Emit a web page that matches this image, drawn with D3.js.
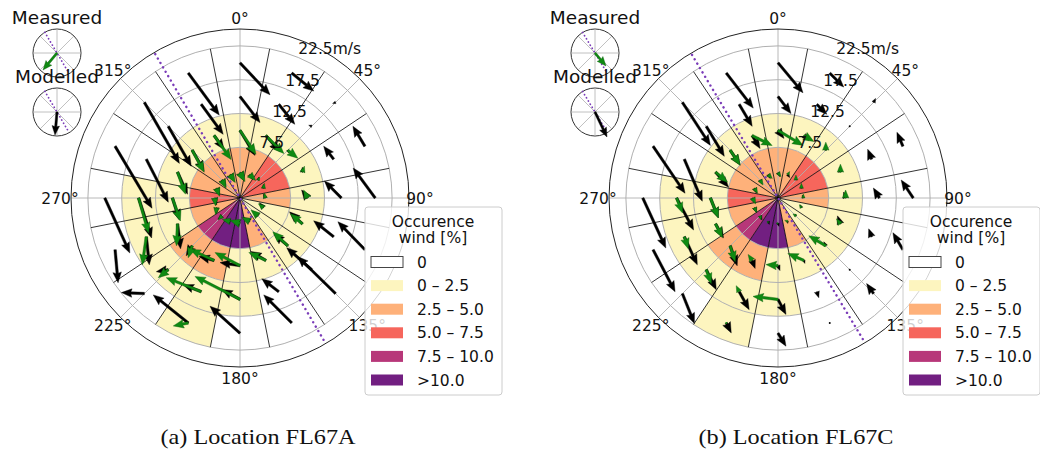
<!DOCTYPE html>
<html>
<head>
<meta charset="utf-8">
<script src="https://cdn.jsdelivr.net/npm/d3@7"></script>
<style>
  body { margin: 0; background: #fff; }
  svg { display: block; }
  text { font-family: "DejaVu Sans", sans-serif; fill: #111; }
</style>
</head>
<body>
<svg id="chart" width="1040" height="455"></svg>
<script>
// wind direction sectors (deg, coming from) and wind speed bins (m/s)
const DIRECTIONS = d3.range(16).map(i => i * 22.5);
const SPEED_BINS = [0, 7.5, 12.5, 17.5, 22.5];
const RADIAL_TICKS = [7.5, 12.5, 17.5, 22.5];
const ANGLE_TICKS = [0, 45, 90, 135, 180, 225, 270, 315];

// occurrence of wind [%] per speed bin (rows) and direction sector (cols)
const OCCURRENCE = [
  [3.5, 3.5, 6, 6, 3.5, 1.5, 1.5, 3.5, 11, 11, 8.5, 3.5, 6, 3.5, 3.5, 3.5],
  [1.5, 1.5, 1.5, 1.5, 1.5, 1.5, 1.5, 1.5, 1.5, 3.5, 3.5, 1.5, 1.5, 1.5, 1.5, 1.5],
  [0, 0, 0, 0, 0, 0, 0, 0, 1, 1, 1, 1, 1, 0, 0, 0],
  [0, 0, 0, 0, 0, 0, 0, 0, 0, 0.5, 0, 0, 0, 0, 0, 0]
];
const OCC_LABELS = ['0', '0 – 2.5', '2.5 – 5.0', '5.0 – 7.5', '7.5 – 10.0', '>10.0'];
const OCC_COLORS = ['#ffffff', '#fdf5bf', '#feb17a', '#f6665c', '#b73779', '#721f81'];
const OCC_BREAKS = [0.001, 2.5, 5, 7.5, 10];

// mean current per wind bin, east (u) and north (v) components [cm/s]
const FL67A_MOD_U = [
  [8, 6, 2, 0, -4, -8, -10, -12, -14, -12, -8, 0, 4, 6, 8, 8],
  [30, 28, 2, 0, -12, -26, -28, -30, -40, -30, -12, 6, 14, 20, 24, 20],
  [40, 32, -6, -20, -34, -40, -50, -34, -36, -36, -24, 6, 26, 44, 46, 44],
  [60, 44, -6, -24, -44, -54, -76, -56, -60, -70, -46, 6, 50, 74, 70, 62]
];
const FL67A_MOD_V = [
  [-16, -10, 6, 8, 8, 10, 10, 8, 4, 2, -6, -12, -14, -14, -14, -14],
  [-50, -32, -6, 10, 16, 24, 24, 18, 6, 8, -20, -50, -44, -44, -42, -28],
  [-52, -40, 2, 26, 34, 32, 44, 26, 20, 14, -4, -56, -80, -86, -80, -60],
  [-64, -36, -2, 40, 60, 56, 74, 56, 54, 56, 2, -66, -110, -124, -122, -84]
];
const FL67A_MEAS_U = [
  [10, 12, 4, 2, -2, -10, -14, -16, -20, -16, -8, -2, 2, 6, 8, 10],
  [32, 36, 20, 4, -8, -24, -30, -34, -50, -48, -8, -2, 16, 16, 24, 34],
  [null, null, null, null, null, null, null, null, -90, -70, -20, -8, 20, null, null, null],
  [null, null, null, null, null, null, null, null, null, -30, null, null, null, null, null, null]
];
const FL67A_MEAS_V = [
  [-18, -12, 6, 10, 10, 8, 12, 8, 6, 4, -8, -14, -16, -16, -16, -16],
  [-48, -36, -16, 12, 16, 20, 28, 16, 26, 22, -24, -44, -46, -44, -44, -48],
  [null, null, null, null, null, null, null, null, 46, 28, -16, -56, -70, null, null, null],
  [null, null, null, null, null, null, null, null, null, -6, null, null, null, null, null, null]
];
const FL67C_MOD_U = [
  [4, 4, 0, 0, -2, -2, -2, 0, 2, 2, 4, 4, 4, 4, 4, 4],
  [12, 10, 0, -2, -4, -6, -4, 2, 4, 6, 14, 16, 16, 26, 20, 16],
  [26, 20, 0.6, -8, -12, -6, 0.6, 4, 16, 20, 20, 26, 34, 36, 36, 26],
  [50, 28, 4, -12, -24, -20, -14, 0.6, 16, 10, 24, 44, 46, 64, 56, 54]
];
const FL67C_MOD_V = [
  [-8, -6, 6, 6, 6, 6, 4, -4, -6, -6, -8, -10, -10, -10, -8, -8],
  [-16, -10, 6, 10, 12, 16, 8, -6, -10, -16, -40, -28, -40, -30, -30, -26],
  [-34, -20, 0.6, 20, 20, 16, 0, -12, -30, -36, -40, -56, -64, -84, -60, -44],
  [-60, -28, 8, 28, 36, 34, 20, -0.6, -26, -20, -60, -84, -100, -94, -86, -70]
];
const FL67C_MEAS_U = [
  [6, 4, 0, 0, 0, -4, -6, -6, -4, -2, 2, 4, 6, 6, 6, 8],
  [50, 20, 0, 0, 0, -8, -34, -32, -24, -8, 10, 14, 16, 24, 20, 40],
  [null, null, null, null, null, null, null, null, -50, -6, 10, 8, 12, null, null, null],
  [null, null, null, null, null, null, null, null, null, 0.6, null, null, null, null, null, null]
];
const FL67C_MEAS_V = [
  [-8, 6, 10, 10, 8, 6, 4, 2, 0, -4, -8, -10, -12, -10, -10, -8],
  [-30, -12, 16, 16, 16, 10, 20, 14, 2, 12, -32, -28, -40, -20, -30, -20],
  [null, null, null, null, null, null, null, null, 6, 12, -28, -24, -30, null, null, null],
  [null, null, null, null, null, null, null, null, null, -1, null, null, null, null, null, null]
];

// overall mean current (insets) [cm/s] and coast orientation [deg]
const MEAN_MEAS_A = [-28, -34];
const MEAN_MOD_A = [-4, -46];
const MEAN_MEAS_C = [22, -26];
const MEAN_MOD_C = [24, -50];
const COAST_ANGLE_A = 149.5;
const COAST_ANGLE_C = 149;

const CAPTIONS = ['(a) Location FL67A', '(b) Location FL67C'];

const QUIVER_SCALE = 0.5;   // px per cm/s
const R_MAX = 25;

const panels = [
  { cx: 240, cy: 198, mu: FL67A_MOD_U, mv: FL67A_MOD_V, gu: FL67A_MEAS_U, gv: FL67A_MEAS_V,
    meanMeas: MEAN_MEAS_A, meanMod: MEAN_MOD_A, coast: COAST_ANGLE_A, caption: CAPTIONS[0] },
  { cx: 778, cy: 198, mu: FL67C_MOD_U, mv: FL67C_MOD_V, gu: FL67C_MEAS_U, gv: FL67C_MEAS_V,
    meanMeas: MEAN_MEAS_C, meanMod: MEAN_MOD_C, coast: COAST_ANGLE_C, caption: CAPTIONS[1] }
];

const svg = d3.select('#chart');
const rScale = d3.scaleLinear().domain([0, R_MAX]).range([0, 169]);
const occColor = d3.scaleThreshold().domain(OCC_BREAKS).range(OCC_COLORS);
const rad = d => d * Math.PI / 180;
const arc = d3.arc();
const GRID = '#b0b0b0';
const PURPLE = '#7a3cb8';
const GREEN = '#0f8a12';

function polar(bearing, r) {
  return [r * Math.sin(rad(bearing)), -r * Math.cos(rad(bearing))];
}

// quiver-like arrow polygon, tail at (x0, y0)
function arrowPath(x0, y0, dx, dy, w) {
  const len = Math.hypot(dx, dy);
  let hl = 4.2 * w, hal = 3.8 * w, hw = 1.7 * w, sw = w / 2;
  if (len < hl) { const s = len / hl; hl *= s; hal *= s; hw *= s; sw *= s; }
  const pts = [[0, -sw], [len - hal, -sw], [len - hl, -hw], [len, 0], [len - hl, hw], [len - hal, sw], [0, sw]];
  const c = dx / len, s = dy / len;
  return 'M' + pts.map(([a, b]) => [x0 + a * c - b * s, y0 + a * s + b * c].map(v => v.toFixed(2)).join(',')).join('L') + 'Z';
}

function drawArrows(g, data, color, stroke) {
  data.forEach(d => {
    const dx = d.u * QUIVER_SCALE, dy = -d.v * QUIVER_SCALE;
    if (Math.hypot(dx, dy) < 1) {
      g.append('circle').attr('cx', d.x).attr('cy', d.y).attr('r', 1).attr('fill', color);
    } else {
      g.append('path').attr('d', arrowPath(d.x, d.y, dx, dy, 2.5))
        .attr('fill', color).attr('stroke', stroke).attr('stroke-width', 0.4);
    }
  });
}

function coastLine(g, angle, r, dotW) {
  const a = polar(angle - 180, r), b = polar(angle, r);
  g.append('line').attr('x1', a[0]).attr('y1', a[1]).attr('x2', b[0]).attr('y2', b[1])
    .attr('stroke', PURPLE).attr('stroke-width', dotW).attr('stroke-linecap', 'round')
    .attr('stroke-dasharray', dotW > 2 ? '0.1,5' : '0.1,3.6');
}

function drawInset(g, x, y, label, vec, color, coast) {
  const ig = g.append('g').attr('transform', `translate(${x},${y})`);
  const r = 24;
  ig.append('circle').attr('r', r).attr('fill', '#fff').attr('stroke', '#333').attr('stroke-width', 1);
  ANGLE_TICKS.slice(0, 4).forEach(a => {
    const p = polar(a, r);
    ig.append('line').attr('x1', -p[0]).attr('y1', -p[1]).attr('x2', p[0]).attr('y2', p[1])
      .attr('stroke', GRID).attr('stroke-width', 0.8);
  });
  coastLine(ig, coast, r, 1.8);
  ig.append('path').attr('d', arrowPath(0, 0, vec[0] * QUIVER_SCALE, -vec[1] * QUIVER_SCALE, 2.2))
    .attr('fill', color).attr('stroke', color === GREEN ? '#0a5a0a' : '#000').attr('stroke-width', 0.4);
  g.append('text').attr('x', x).attr('y', y - 29).attr('text-anchor', 'middle')
    .style('font-size', '18.5px').text(label);
}

panels.forEach(p => {
  const g = svg.append('g').attr('transform', `translate(${p.cx},${p.cy})`);

  // occurrence cells
  const cells = [];
  SPEED_BINS.slice(0, -1).forEach((lo, bi) => {
    DIRECTIONS.forEach((dir, si) => cells.push({ lo, hi: SPEED_BINS[bi + 1], dir, occ: OCCURRENCE[bi][si] }));
  });
  g.selectAll('path.cell').data(cells).enter().append('path').attr('class', 'cell')
    .attr('d', d => arc({ innerRadius: rScale(d.lo), outerRadius: rScale(d.hi),
      startAngle: rad(d.dir - 11.25), endAngle: rad(d.dir + 11.25) }))
    .attr('fill', d => occColor(d.occ));

  // grid
  g.selectAll('line.agrid').data(ANGLE_TICKS).enter().append('line').attr('class', 'agrid')
    .attr('x1', 0).attr('y1', 0)
    .attr('x2', d => polar(d, rScale(R_MAX))[0]).attr('y2', d => polar(d, rScale(R_MAX))[1])
    .attr('stroke', GRID).attr('stroke-width', 0.9);
  g.selectAll('circle.rgrid').data(RADIAL_TICKS).enter().append('circle').attr('class', 'rgrid')
    .attr('r', d => rScale(d)).attr('fill', 'none').attr('stroke', GRID).attr('stroke-width', 1);

  // sector edges
  g.selectAll('line.edge').data(DIRECTIONS).enter().append('line').attr('class', 'edge')
    .attr('x1', 0).attr('y1', 0)
    .attr('x2', d => polar(d + 11.25, rScale(22.5))[0]).attr('y2', d => polar(d + 11.25, rScale(22.5))[1])
    .attr('stroke', '#000').attr('stroke-width', 0.8);

  g.append('circle').attr('r', rScale(R_MAX)).attr('fill', 'none').attr('stroke', '#222').attr('stroke-width', 1);

  coastLine(g, p.coast, 167, 2.4);

  // arrows, tail at cell centre
  const mod = [], meas = [];
  SPEED_BINS.slice(0, -1).forEach((lo, bi) => {
    const rc = rScale((lo + SPEED_BINS[bi + 1]) / 2);
    DIRECTIONS.forEach((dir, si) => {
      const [x, y] = polar(dir, rc);
      mod.push({ x, y, u: p.mu[bi][si], v: p.mv[bi][si] });
      if (p.gu[bi][si] !== null) meas.push({ x, y, u: p.gu[bi][si], v: p.gv[bi][si] });
    });
  });
  drawArrows(g, mod, '#000', '#000');
  drawArrows(g, meas, GREEN, '#0a5a0a');

  // angle labels
  g.selectAll('text.alab').data(ANGLE_TICKS).enter().append('text').attr('class', 'alab')
    .attr('x', d => polar(d, 180)[0]).attr('y', d => polar(d, 180)[1])
    .attr('dy', '0.36em').attr('text-anchor', 'middle').style('font-size', '15.5px')
    .text(d => d + '°');

  // radial labels
  g.selectAll('text.rlab').data(RADIAL_TICKS).enter().append('text').attr('class', 'rlab')
    .attr('x', d => polar(22.5, rScale(d))[0]).attr('y', d => polar(22.5, rScale(d))[1] - 3)
    .style('font-size', '15.5px')
    .text((d, i) => i === RADIAL_TICKS.length - 1 ? d + 'm/s' : d);

  // insets
  drawInset(svg, p.cx - 183, 53, 'Measured', p.meanMeas, GREEN, p.coast);
  drawInset(svg, p.cx - 183, 112, 'Modelled', p.meanMod, '#000', p.coast);

  // legend
  const lg = svg.append('g').attr('transform', `translate(${p.cx + 125},207)`);
  lg.append('rect').attr('width', 137).attr('height', 188).attr('rx', 3)
    .attr('fill', '#fff').attr('fill-opacity', 0.8).attr('stroke', '#cccccc').attr('stroke-width', 1);
  lg.append('text').attr('x', 68).attr('y', 20).attr('text-anchor', 'middle').style('font-size', '15.5px').text('Occurence');
  lg.append('text').attr('x', 68).attr('y', 36).attr('text-anchor', 'middle').style('font-size', '15.5px').text('wind [%]');
  OCC_LABELS.forEach((lab, i) => {
    const y = 55 + i * 23.6;
    lg.append('rect').attr('x', 6).attr('y', y - 5.5).attr('width', 32).attr('height', 11)
      .attr('fill', OCC_COLORS[i]).attr('stroke', i === 0 ? '#444' : 'none').attr('stroke-width', 1);
    lg.append('text').attr('x', 52).attr('y', y + 5.5).style('font-size', '15.5px').text(lab);
  });

  // caption
  svg.append('text').attr('x', p.cx + 18).attr('y', 444).attr('text-anchor', 'middle')
    .style('font-family', '"Liberation Serif", serif').style('font-size', '21px')
    .attr('textLength', 195).attr('lengthAdjust', 'spacingAndGlyphs').text(p.caption);
});
</script>
</body>
</html>
